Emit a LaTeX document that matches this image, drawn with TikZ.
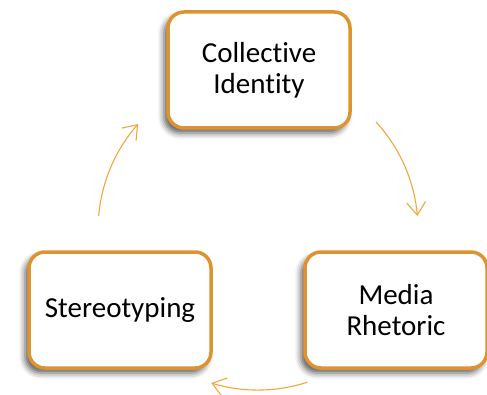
\documentclass[tikz,border=0pt]{standalone}
\definecolor{boxOrange}{RGB}{221, 148, 48}
\definecolor{flowOrange}{RGB}{242, 166, 60}
\usepackage{fontspec}
\setmainfont{Carlito}[Ligatures=NoCommon]
\usepackage{tikz}
\usetikzlibrary{shadows,shadows.blur,arrows.meta}

\tikzset{
    stage/.style={rounded corners=16pt,draw=boxOrange,line width=3.5pt,fill=white,
                  minimum width=182pt,minimum height=116pt,align=center,
                  font=\fontsize{29}{31}\selectfont,
                  blur shadow={shadow xshift=-4pt,shadow yshift=-5pt,shadow blur radius=6pt,shadow opacity=65}},
    flow/.style={draw=flowOrange,line width=1.1pt,-{Straight Barb[length=13pt,width=19pt]}}
}

\begin{document}
\begin{tikzpicture}[x=1pt,y=1pt]
    \useasboundingbox (0,0) rectangle (487,394);
    \node[stage] (identity) at (259,324) {Collective\\Identity};
    \node[stage] (rhetoric) at (396,84) {Media\\Rhetoric};
    \node[stage] (stereo) at (120,84) {Stereotyping};
    % cycle arrows on a circle round the three stages
    \coordinate (hub) at (258,164);
    \draw[flow] ([shift={(42.5:160)}]hub) arc[start angle=42.5,end angle=5,radius=160];
    \draw[flow] ([shift={(-72:160)}]hub) arc[start angle=-72,end angle=-107,radius=160];
    \draw[flow] ([shift={(175:160)}]hub) arc[start angle=175,end angle=138.5,radius=160];
\end{tikzpicture}
\end{document}
